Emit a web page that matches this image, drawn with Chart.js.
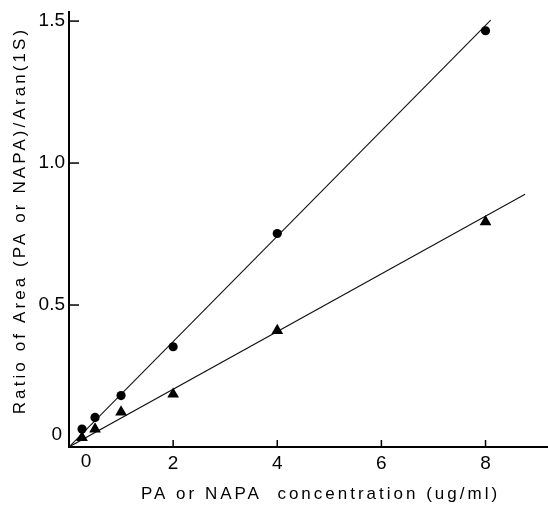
<!DOCTYPE html>
<html>
<head>
<meta charset="utf-8">
<script src="https://cdn.jsdelivr.net/npm/chart.js@4"></script>
<style>
  html, body { margin: 0; padding: 0; background: #ffffff; }
  #wrap { width: 548px; height: 507px; }
</style>
</head>
<body>
<div id="wrap"><canvas id="c" width="548" height="507"></canvas></div>
<script>
// ---- data ----
const concentrations = [0.25, 0.5, 1, 2, 4, 8];            // ug/ml
const circleRatios   = [0.063, 0.104, 0.181, 0.353, 0.752, 1.466];
const triangleRatios = [0.033, 0.063, 0.123, 0.186, 0.41, 0.793];
const circleFitX = [0, 8.1];
const circleFitY = [0, 1.503];
const triangleFitX = [0, 8.76];
const triangleFitY = [0, 0.89];
const xTicks = [0, 2, 4, 6, 8];
const yTicks = [0, 0.5, 1.0, 1.5];
const xTitle = 'PA or NAPA  concentration (ug/ml)';
const yTitle = 'Ratio of Area (PA or NAPA)/Aran(1S)';

const FONT = '"Liberation Sans", Arial, Helvetica, sans-serif';
const pts = (xs, ys) => xs.map((x, i) => ({x: x, y: ys[i]}));

const styleTweaks = {
  id: 'styleTweaks',
  beforeDraw(chart) {
    const cfg = {x: {sp: '3px', dx: 12, dy: 0}, y: {sp: '3.1px', dx: 0, dy: -9}};
    for (const id of ['x', 'y']) {
      const s = chart.scales[id];
      if (s._patched) continue;
      const orig = s.drawTitle;
      const c = cfg[id];
      s.drawTitle = function () {
        const ctx = this.ctx;
        ctx.save();
        ctx.letterSpacing = c.sp;
        ctx.translate(c.dx, c.dy);
        orig.call(this);
        ctx.restore();
      };
      s._patched = true;
    }
  },
  afterDraw(chart) {
    const ctx = chart.ctx;
    const xs = chart.scales.x, ys = chart.scales.y;
    const area = chart.chartArea;
    ctx.save();
    ctx.strokeStyle = '#000';
    ctx.lineWidth = 1.5;
    // inward tick marks
    xTicks.forEach(v => {
      if (v === 0) return;
      const p = xs.getPixelForValue(v);
      ctx.beginPath(); ctx.moveTo(p, area.bottom); ctx.lineTo(p, area.bottom - 7); ctx.stroke();
    });
    yTicks.forEach(v => {
      if (v === 0) return;
      const p = ys.getPixelForValue(v);
      ctx.beginPath(); ctx.moveTo(area.left, p); ctx.lineTo(area.left + 10, p); ctx.stroke();
    });
    // origin labels, set off from the corner as in the reference
    ctx.fillStyle = '#000';
    ctx.font = '19px ' + FONT;
    ctx.textAlign = 'center';
    ctx.textBaseline = 'top';
    ctx.fillText('0', xs.getPixelForValue(0) + 17, area.bottom + 5);
    ctx.textAlign = 'right';
    ctx.textBaseline = 'middle';
    ctx.fillText('0', area.left - 7, ys.getPixelForValue(0) - 12);
    ctx.restore();
  }
};

new Chart(document.getElementById('c'), {
  type: 'scatter',
  data: {
    datasets: [
      {
        label: 'circles',
        data: pts(concentrations, circleRatios),
        pointStyle: 'circle',
        pointRadius: 4.6,
        pointBackgroundColor: '#000',
        pointBorderColor: '#000',
        pointBorderWidth: 0,
        showLine: false,
        order: 1
      },
      {
        label: 'triangles',
        data: pts(concentrations, triangleRatios),
        pointStyle: 'triangle',
        pointRadius: 6.8,
        pointBackgroundColor: '#000',
        pointBorderColor: '#000',
        pointBorderWidth: 0,
        showLine: false,
        order: 1
      },
      {
        label: 'circle fit',
        data: pts(circleFitX, circleFitY),
        showLine: true,
        pointRadius: 0,
        borderColor: '#111',
        borderWidth: 1.1,
        order: 2
      },
      {
        label: 'triangle fit',
        data: pts(triangleFitX, triangleFitY),
        showLine: true,
        pointRadius: 0,
        borderColor: '#111',
        borderWidth: 1.1,
        order: 2
      }
    ]
  },
  options: {
    responsive: false,
    animation: false,
    layout: { autoPadding: false, padding: { top: 12, right: 0, bottom: 0, left: 0 } },
    plugins: { legend: { display: false }, tooltip: { enabled: false } },
    scales: {
      x: {
        type: 'linear',
        min: 0,
        max: 9.2,
        afterBuildTicks: (s) => { s.ticks = xTicks.map(v => ({value: v})); },
        afterFit: (s) => { s.height = 60; s.paddingLeft = 0; s.paddingRight = 0; },
        grid: { display: false, drawTicks: false },
        border: { display: true, color: '#000', width: 2 },
        ticks: {
          color: '#000',
          padding: 5,
          maxRotation: 0,
          font: { family: FONT, size: 19 },
          callback: (v) => (v === 0 ? '' : String(v))
        },
        title: {
          display: true,
          text: xTitle,
          color: '#000',
          font: { family: FONT, size: 17 },
          padding: { top: 0, bottom: 2 }
        }
      },
      y: {
        type: 'linear',
        min: 0,
        max: 1.532,
        afterBuildTicks: (s) => { s.ticks = yTicks.map(v => ({value: v})); },
        afterFit: (s) => { s.width = 69; s.paddingTop = 0; s.paddingBottom = 0; },
        grid: { display: false, drawTicks: false },
        border: { display: true, color: '#000', width: 2 },
        ticks: {
          color: '#000',
          padding: 4,
          font: { family: FONT, size: 19 },
          callback: (v) => (v === 0 ? '' : Number(v).toFixed(1))
        },
        title: {
          display: true,
          text: yTitle,
          color: '#000',
          font: { family: FONT, size: 17 },
          padding: { top: 10, bottom: 0 }
        }
      }
    }
  },
  plugins: [styleTweaks]
});
</script>
</body>
</html>
